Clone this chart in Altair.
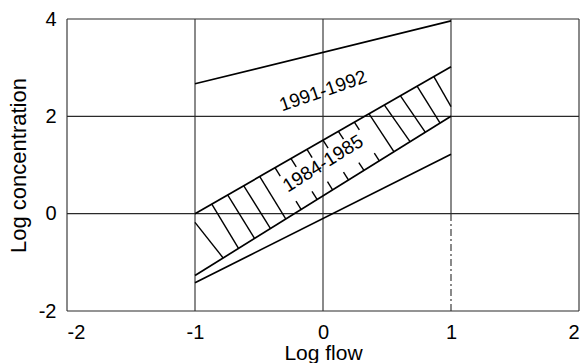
import altair as alt
import pandas as pd

FONT = "Liberation Sans"

# axis ticks / grid positions
x_ticks = [-2, -1, 0, 1, 2]
y_ticks = [-2, 0, 2, 4]

# boundary lines
line_name = ["1991-1992", "1984-1985 upper", "1984-1985 lower", "lower"]
line_x0 = [-1, -1, -1, -1]
line_y0 = [2.67, 0.0, -1.27, -1.42]
line_x1 = [1, 1, 1, 1]
line_y1 = [3.96, 3.02, 2.0, 1.22]

# hatching inside the 1984-1985 band
hatch_x_top = [-1.0, -0.87, -0.745, -0.62, -0.495, -0.375, -0.25, -0.125, 0.0, 0.12, 0.245, 0.36, 0.48, 0.605, 0.735, 0.865]
hatch_y_top = [-0.18, 0.2, 0.385, 0.575, 0.765, 0.945, 1.13, 1.32, 1.51, 1.69, 1.88, 2.05, 2.23, 2.42, 2.62, 2.82]
hatch_x_bot = [-0.78, -0.66, -0.535, -0.41, -0.29, -0.17, -0.045, 0.075, 0.2, 0.32, 0.44, 0.555, 0.68, 0.80, 0.915, 1.0]
hatch_y_bot = [-0.91, -0.715, -0.51, -0.305, -0.11, 0.085, 0.29, 0.49, 0.69, 0.89, 1.085, 1.27, 1.48, 1.67, 1.86, 2.2]
hatch_broken = [False, False, False, False, False, True, True, True, True, True, True, False, False, False, False, False]

# labels
label_text = ["1991-1992", "1984-1985"]
label_x = [0.0, 0.0]
label_y = [2.52, 1.03]
label_angle = [341, 328]

# ---------------------------------------------------------------
xs = alt.Scale(domain=[-2, 2], nice=False, zero=False)
ys = alt.Scale(domain=[-2, 4], nice=False, zero=False)

# grid frame
grid_rows = []
for v in x_ticks:
    if v == 1:
        grid_rows.append(dict(x=v, x2=v, y=0, y2=4, kind="solid"))
        grid_rows.append(dict(x=v, x2=v, y=-2, y2=0, kind="dash"))
    else:
        grid_rows.append(dict(x=v, x2=v, y=-2, y2=4, kind="solid"))
for v in y_ticks:
    grid_rows.append(dict(x=-2, x2=2, y=v, y2=v, kind="solid"))
grid_df = pd.DataFrame(grid_rows)

enc_common = dict(
    x=alt.X("x:Q", scale=xs),
    x2="x2:Q",
    y=alt.Y("y:Q", scale=ys),
    y2="y2:Q",
)

grid_solid = alt.Chart(grid_df[grid_df.kind == "solid"]).mark_rule(
    color="#2a2a2a", strokeWidth=1.1
).encode(
    x=alt.X("x:Q", scale=xs, axis=alt.Axis(
        values=x_ticks, grid=False, domain=False, ticks=False,
        labelExpr="'' + datum.value", labelFont=FONT, labelFontSize=20,
        labelColor="black", labelPadding=11, title="Log flow",
        titleFont=FONT, titleFontSize=21, titleFontWeight="normal",
        titleColor="black", titlePadding=0)),
    x2="x2:Q",
    y=alt.Y("y:Q", scale=ys, axis=alt.Axis(
        values=y_ticks, grid=False, domain=False, ticks=False,
        labelExpr="'' + datum.value", labelFont=FONT, labelFontSize=20,
        labelColor="black", labelPadding=11, title="Log concentration",
        titleFont=FONT, titleFontSize=22, titleFontWeight="normal",
        titleColor="black", titlePadding=8)),
    y2="y2:Q",
)

grid_dash = alt.Chart(grid_df[grid_df.kind == "dash"]).mark_rule(
    color="#2a2a2a", strokeWidth=1.1, strokeDash=[7, 3, 2, 3]
).encode(**enc_common)

lines_df = pd.DataFrame(dict(name=line_name, x=line_x0, y=line_y0, x2=line_x1, y2=line_y1))
lines = alt.Chart(lines_df).mark_rule(color="black", strokeWidth=1.7).encode(**enc_common)

# hatch segments (broken ones split around the label)
hrows = []
frac = 0.2
for xt, yt, xb, yb, br in zip(hatch_x_top, hatch_y_top, hatch_x_bot, hatch_y_bot, hatch_broken):
    if br:
        hrows.append(dict(x=xt, y=yt, x2=xt + frac * (xb - xt), y2=yt + frac * (yb - yt)))
        hrows.append(dict(x=xb - frac * (xb - xt), y=yb - frac * (yb - yt), x2=xb, y2=yb))
    else:
        hrows.append(dict(x=xt, y=yt, x2=xb, y2=yb))
hatch_df = pd.DataFrame(hrows)
hatch = alt.Chart(hatch_df).mark_rule(color="black", strokeWidth=1.4).encode(**enc_common)

labels_df = pd.DataFrame(dict(text=label_text, x=label_x, y=label_y, angle=label_angle))
labels = alt.layer(*[
    alt.Chart(labels_df.iloc[[i]]).mark_text(
        font=FONT, fontSize=19, color="black", angle=label_angle[i],
        align="center", baseline="middle"
    ).encode(x=alt.X("x:Q", scale=xs), y=alt.Y("y:Q", scale=ys), text="text:N")
    for i in range(len(label_text))
])

chart = alt.layer(grid_solid, grid_dash, lines, hatch, labels).properties(
    width=512, height=292,
    padding={"left": 67, "top": 19, "right": 3, "bottom": 52},
    autosize=alt.AutoSizeParams(type="none"),
    background="white",
).configure_view(stroke=None)

chart.save("out.html", embed_options={"renderer": "svg", "actions": False})
